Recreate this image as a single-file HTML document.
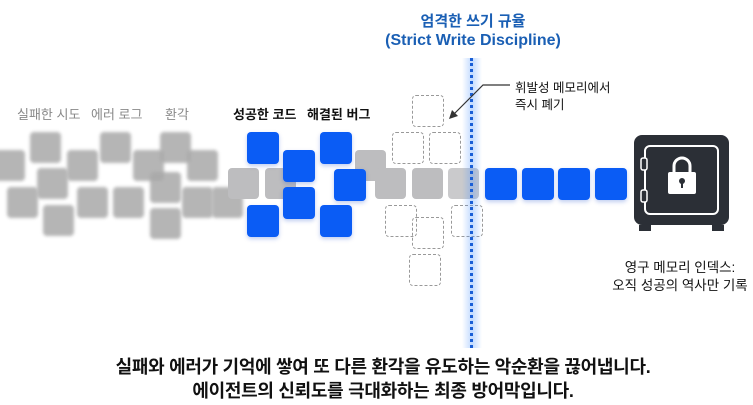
<!DOCTYPE html>
<html><head><meta charset="utf-8"><style>
body{margin:0;width:753px;height:405px;background:#fff;position:relative;overflow:hidden;font-family:"Liberation Sans","Noto Sans CJK KR",sans-serif}
.a{position:absolute}
.f{position:absolute;width:31px;height:31px;border-radius:4px;background:#a9a9a9;filter:blur(1.5px);opacity:.85}
.g{position:absolute;width:31px;height:31px;border-radius:4px;background:#bdbdbf}
.b{position:absolute;width:32px;height:32px;border-radius:4px;background:#0a5cf5;box-shadow:0 2px 4px rgba(0,60,200,.25)}
.d{position:absolute;width:30px;height:30px;border-radius:4px;border:1px dashed #999}
.t{position:absolute;font-size:13px;white-space:nowrap}
</style></head><body>
<div class="t" style="left:17px;top:104px;color:#888">실패한 시도</div>
<div class="t" style="left:91px;top:104px;color:#888">에러 로그</div>
<div class="t" style="left:165px;top:104px;color:#888">환각</div>
<div class="t" style="left:233px;top:104px;color:#111;font-weight:bold">성공한 코드</div>
<div class="t" style="left:307px;top:104px;color:#111;font-weight:bold">해결된 버그</div>

<div class="f" style="left:30px;top:132px"></div>
<div class="f" style="left:-6px;top:150px"></div>
<div class="f" style="left:67px;top:150px"></div>
<div class="f" style="left:37px;top:168px"></div>
<div class="f" style="left:7px;top:187px"></div>
<div class="f" style="left:43px;top:205px"></div>
<div class="f" style="left:77px;top:187px"></div>
<div class="f" style="left:100px;top:132px"></div>
<div class="f" style="left:113px;top:187px"></div>
<div class="f" style="left:133px;top:150px"></div>
<div class="f" style="left:160px;top:132px"></div>
<div class="f" style="left:150px;top:172px"></div>
<div class="f" style="left:187px;top:150px"></div>
<div class="f" style="left:182px;top:187px"></div>
<div class="f" style="left:150px;top:208px"></div>
<div class="f" style="left:212px;top:187px"></div>

<div class="g" style="left:228px;top:168px"></div>
<div class="g" style="left:265px;top:168px"></div>
<div class="g" style="left:355px;top:150px"></div>
<div class="g" style="left:375px;top:168px"></div>
<div class="g" style="left:412px;top:168px"></div>
<div class="g" style="left:448px;top:168px;opacity:.8"></div>

<div class="b" style="left:247px;top:132px"></div>
<div class="b" style="left:283px;top:150px"></div>
<div class="b" style="left:320px;top:132px"></div>
<div class="b" style="left:334px;top:169px"></div>
<div class="b" style="left:283px;top:187px"></div>
<div class="b" style="left:247px;top:205px"></div>
<div class="b" style="left:320px;top:205px"></div>

<div class="d" style="left:412px;top:95px"></div>
<div class="d" style="left:392px;top:132px"></div>
<div class="d" style="left:429px;top:132px"></div>
<div class="d" style="left:385px;top:205px"></div>
<div class="d" style="left:412px;top:217px"></div>
<div class="d" style="left:451px;top:205px"></div>
<div class="d" style="left:409px;top:254px"></div>

<div class="b" style="left:485px;top:168px"></div>
<div class="b" style="left:522px;top:168px"></div>
<div class="b" style="left:558px;top:168px"></div>
<div class="b" style="left:595px;top:168px"></div>

<div class="a" style="left:462px;top:58px;width:20px;height:290px;background:linear-gradient(90deg,rgba(80,150,255,0),rgba(80,150,255,.35),rgba(80,150,255,0))"></div>
<div class="a" style="left:470px;top:58px;height:290px;border-left:3px dotted #1a5fd6"></div>

<div class="t" style="left:0;width:946px;text-align:center;top:10px;font-size:15px;font-weight:bold;color:#1a5fb4">엄격한 쓰기 규율</div>
<div class="t" style="left:0;width:946px;text-align:center;top:32px;font-size:16px;font-weight:bold;color:#1a5fb4">(Strict Write Discipline)</div>

<svg class="a" style="left:0;top:0" width="753" height="405">
<polyline points="510,85 483,85 452,116" fill="none" stroke="#333" stroke-width="1.2"/>
<polygon points="449,119 452,110 458,116" fill="#333"/>
<rect x="634" y="135" width="95" height="90" rx="8" fill="#2b2f36"/>
<rect x="639" y="225" width="12" height="6" fill="#2b2f36"/><rect x="712" y="225" width="12" height="6" fill="#2b2f36"/>
<rect x="645" y="146" width="73" height="68" rx="5" fill="none" stroke="#fff" stroke-width="2"/>
<rect x="641" y="158" width="6" height="12" rx="2" fill="#2b2f36" stroke="#fff" stroke-width="1.5"/>
<rect x="641" y="190" width="6" height="12" rx="2" fill="#2b2f36" stroke="#fff" stroke-width="1.5"/>
<path d="M674,172 v-6 a8,8 0 0 1 16,0 v6" fill="none" stroke="#fff" stroke-width="3"/>
<rect x="668" y="172" width="28" height="22" rx="2" fill="#fff"/>
<circle cx="682" cy="181" r="3" fill="#2b2f36"/><rect x="681" y="181" width="2" height="7" fill="#2b2f36"/>
</svg>
<div class="t" style="left:515px;top:77px;font-size:12.5px;color:#111">휘발성 메모리에서</div>
<div class="t" style="left:515px;top:94px;font-size:12.5px;color:#111">즉시 폐기</div>
<div class="t" style="left:580px;width:200px;text-align:center;top:256px;font-size:13.5px;color:#111">영구 메모리 인덱스:</div>
<div class="t" style="left:580px;width:200px;text-align:center;top:274px;font-size:13.5px;color:#111">오직 성공의 역사만 기록</div>

<div class="t" style="left:0;width:766px;text-align:center;top:353px;font-size:18px;font-weight:bold;letter-spacing:-0.3px;color:#111">실패와 에러가 기억에 쌓여 또 다른 환각을 유도하는 악순환을 끊어냅니다.</div>
<div class="t" style="left:0;width:766px;text-align:center;top:377px;font-size:18px;font-weight:bold;letter-spacing:-0.3px;color:#111">에이전트의 신뢰도를 극대화하는 최종 방어막입니다.</div>
</body></html>
